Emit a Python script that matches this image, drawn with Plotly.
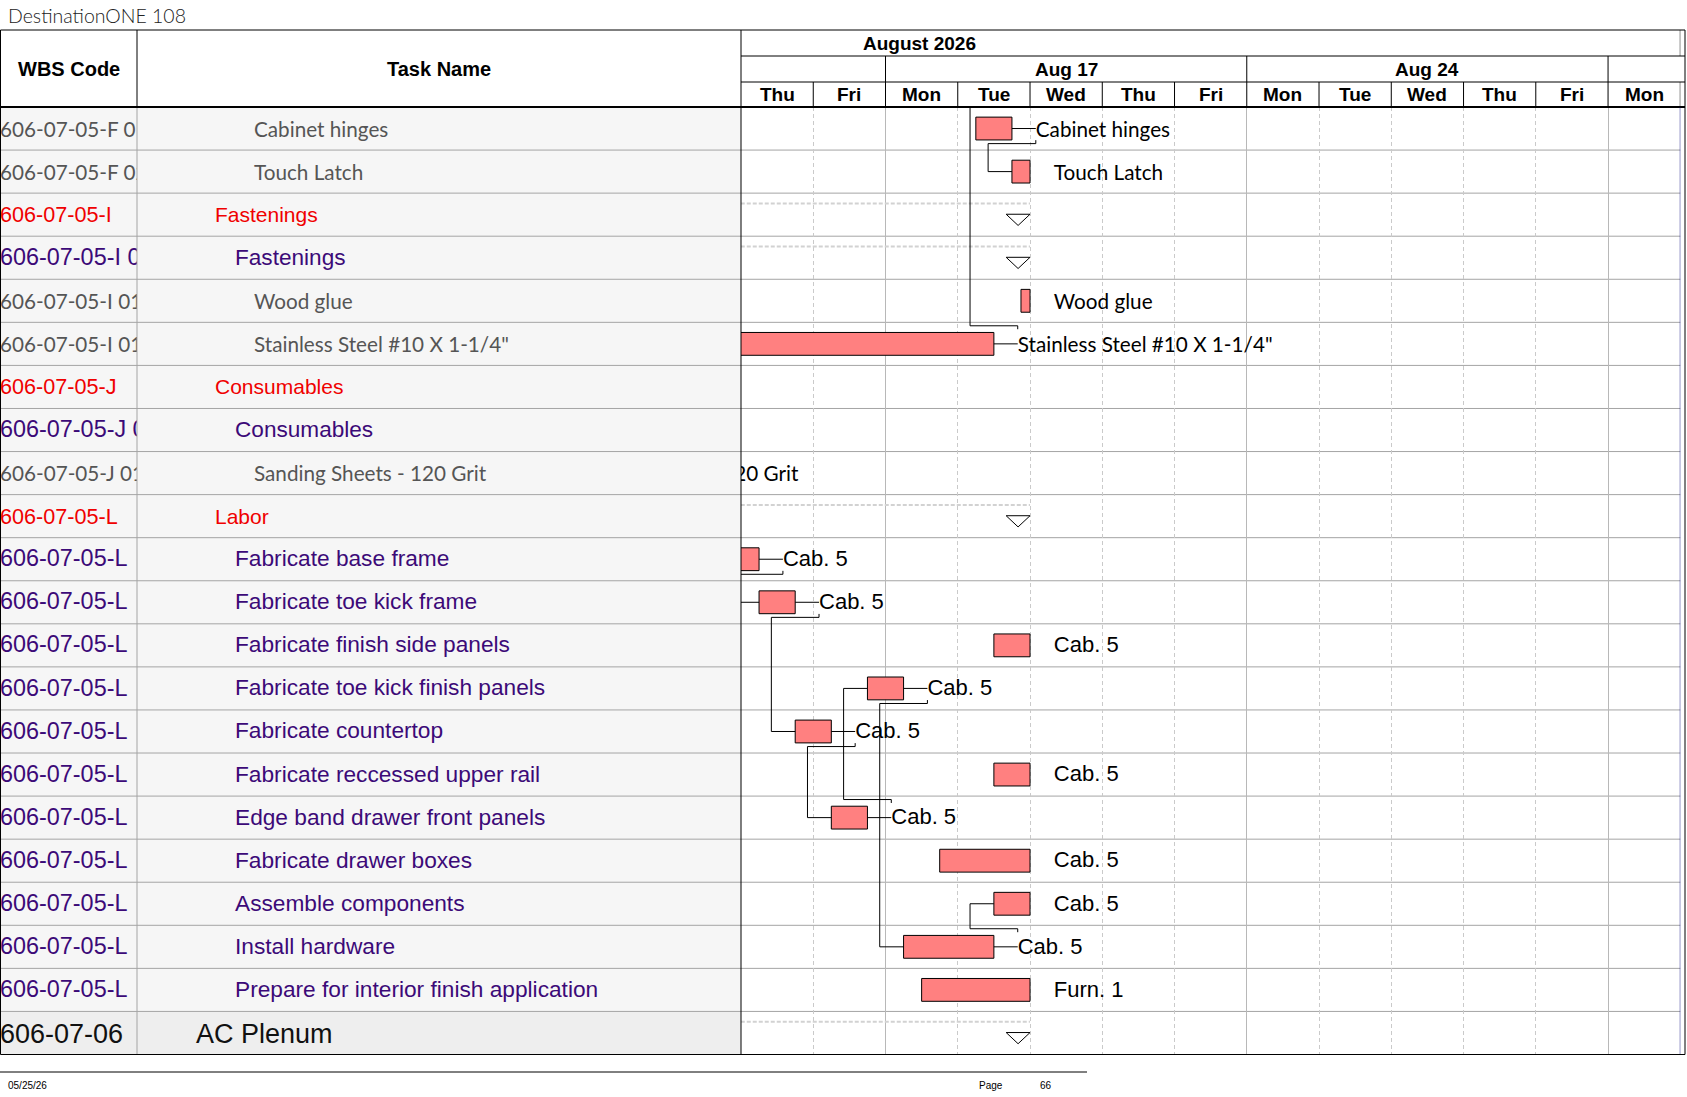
import plotly.graph_objects as go

W, H = 1687, 1097

title_text = "DestinationONE 108"
month_label = "August 2026"
day_labels = ["Thu", "Fri", "Mon", "Tue", "Wed", "Thu", "Fri",
              "Mon", "Tue", "Wed", "Thu", "Fri", "Mon"]
week_labels = ["", "Aug 17", "Aug 24", ""]

wbs_codes = ["606-07-05-F 01", "606-07-05-F 02", "606-07-05-I", "606-07-05-I 01",
             "606-07-05-I 01 01", "606-07-05-I 01 02", "606-07-05-J", "606-07-05-J 01",
             "606-07-05-J 01 01", "606-07-05-L",
             "606-07-05-L", "606-07-05-L", "606-07-05-L", "606-07-05-L", "606-07-05-L",
             "606-07-05-L", "606-07-05-L", "606-07-05-L", "606-07-05-L", "606-07-05-L",
             "606-07-05-L", "606-07-06"]
task_names = ["Cabinet hinges", "Touch Latch", "Fastenings", "Fastenings", "Wood glue",
              'Stainless Steel #10 X 1-1/4"', "Consumables", "Consumables",
              "Sanding Sheets - 120 Grit", "Labor", "Fabricate base frame",
              "Fabricate toe kick frame", "Fabricate finish side panels",
              "Fabricate toe kick finish panels", "Fabricate countertop",
              "Fabricate reccessed upper rail", "Edge band drawer front panels",
              "Fabricate drawer boxes", "Assemble components", "Install hardware",
              "Prepare for interior finish application", "AC Plenum"]
row_kind = ["mat", "mat", "sum1", "sum2", "mat", "mat", "sum1", "sum2", "mat", "sum1",
            "lab", "lab", "lab", "lab", "lab", "lab", "lab", "lab", "lab", "lab", "lab",
            "top"]
# working days counted from the start of Thu Aug 13 (weekends left out)
task_start = [3.25, 3.75, -1.0, -1.0, 3.875, -1.0, -3.0, -3.0, -3.0, -1.0,
              -0.25, 0.25, 3.5, 1.75, 0.75, 3.5, 1.25, 2.75, 3.5, 2.25, 2.5, -1.0]
task_finish = [3.75, 4.0, 4.0, 4.0, 4.0, 3.5, -2.75, -2.75, -2.75, 4.0,
               0.25, 0.75, 4.0, 2.25, 1.25, 4.0, 1.75, 4.0, 4.0, 3.5, 4.0, 4.0]
bar_labels = ["Cabinet hinges", "Touch Latch", "", "", "Wood glue",
              'Stainless Steel #10 X 1-1/4"', "", "", "Sanding Sheets - 120 Grit", "",
              "Cab. 5", "Cab. 5", "Cab. 5", "Cab. 5", "Cab. 5", "Cab. 5", "Cab. 5",
              "Cab. 5", "Cab. 5", "Cab. 5", "Furn. 1", ""]
# finish-to-start links (predecessor row, successor row)
links = [(0, 1), (10, 11), (11, 14), (14, 16), (16, 13), (13, 19), (19, 18)]
# links to a task on the previous page (predecessor row, successor start)
links_to_prev_page = [(5, 3.5)]

footer_date = "05/25/26"
footer_page = "66"

# ---- look ----
ARIAL = "Liberation Sans, Arial, sans-serif"
CAL = "Lato, Carlito, Calibri, sans-serif"
STYLE = {
    "sum1": dict(color="#f00000", family=ARIAL, size=21, wsize=21.6, indent=78, dy=0.05),
    "sum2": dict(color="#3c0a78", family=ARIAL, size=22.6, wsize=23.4, indent=98, dy=0.03),
    "lab": dict(color="#3c0a78", family=ARIAL, size=22.7, wsize=23.4, indent=98, dy=0.03),
    "mat": dict(color="#555555", family=CAL, size=20.7, wsize=20.7, indent=117, dy=0.075),
    "top": dict(color="#111111", family=ARIAL, size=27, wsize=27, indent=59, dy=0.07),
}
TOP, T1, T2, HB, BOT = 30, 56, 82, 107, 1054.5
C1, C2, CR, FR = 137, 741, 1680.3, 1685
GAP = 0.33
BAR_H = 0.53


def px(x):
    return x / W


def py(y):
    return 1 - y / H


n = len(task_names)
ndays = len(day_labels)
week_starts = [i for i, d in enumerate(day_labels) if d == "Mon"]
week_edges = [0] + week_starts + [ndays]
is_summary = [k in ("sum1", "sum2", "top") for k in row_kind]

fig = go.Figure()

# bars
rows = [i for i in range(n) if not is_summary[i]]
fig.add_trace(go.Bar(
    orientation="h",
    y=[i + 0.5 for i in rows],
    base=[task_start[i] for i in rows],
    x=[task_finish[i] - task_start[i] for i in rows],
    width=BAR_H,
    marker=dict(color="#ff8080", line=dict(color="black", width=1)),
    hoverinfo="skip", showlegend=False,
))

# summary rows: dashed span and open triangle at the finish
sx, sy, tx, ty = [], [], [], []
for i in range(n):
    if not is_summary[i]:
        continue
    sx += [task_start[i], task_finish[i], None]
    sy += [i + 0.24, i + 0.24, None]
    e = task_finish[i]
    tx += [e - GAP, e, e - GAP / 2, e - GAP, None]
    ty += [i + 0.49, i + 0.49, i + 0.75, i + 0.49, None]
fig.add_trace(go.Scatter(x=sx, y=sy, mode="lines",
                         line=dict(color="#d2d2d2", width=2, dash="4px,2px"),
                         hoverinfo="skip", showlegend=False))
fig.add_trace(go.Scatter(x=tx, y=ty, mode="lines", fill="toself", fillcolor="white",
                         line=dict(color="black", width=1),
                         hoverinfo="skip", showlegend=False))

# link lines
lx, ly = [], []


def link_path(pred, succ_start, succ_row):
    c = pred + 0.5
    sc = succ_row + 0.5
    e = task_finish[pred]
    # bar to label
    lx.extend([e, e + GAP, None])
    ly.extend([c, c, None])
    if sc > c:
        yy, yt = c + 0.35, c + 0.27
    else:
        yy, yt = c - 0.42, c - 0.34
    vx = succ_start - GAP
    lx.extend([e + GAP, e + GAP, vx, vx, succ_start, None])
    ly.extend([yt, yy, yy, sc, sc, None])


for p, s in links:
    link_path(p, task_start[s], s)
for p, s0 in links_to_prev_page:
    link_path(p, s0, -1)
fig.add_trace(go.Scatter(x=lx, y=ly, mode="lines", line=dict(color="black", width=1),
                         hoverinfo="skip", showlegend=False))

# bar labels
for kind, fam, size in (("mat", CAL, 20.7), ("lab", ARIAL, 22)):
    idx = [i for i in range(n) if row_kind[i] == kind and bar_labels[i]]
    fig.add_trace(go.Scatter(
        x=[task_finish[i] + GAP for i in idx],
        y=[i + 0.5 + STYLE[kind]["dy"] for i in idx],
        mode="text", text=[bar_labels[i] for i in idx], textposition="middle right",
        textfont=dict(family=fam, size=size, color="black"),
        cliponaxis=True, hoverinfo="skip", showlegend=False))

# table columns
row_y = [i + 0.5 + STYLE[k]["dy"] for i, k in enumerate(row_kind)]
fig.add_trace(go.Scatter(
    x=[0] * n, y=row_y, xaxis="x2", yaxis="y",
    mode="text", text=wbs_codes, textposition="middle right",
    textfont=dict(family=[STYLE[k]["family"] for k in row_kind],
                  size=[STYLE[k]["wsize"] for k in row_kind],
                  color=[STYLE[k]["color"] for k in row_kind]),
    cliponaxis=True, hoverinfo="skip", showlegend=False))
fig.add_trace(go.Scatter(
    x=[STYLE[k]["indent"] for k in row_kind], y=row_y,
    xaxis="x3", yaxis="y",
    mode="text", text=task_names, textposition="middle right",
    textfont=dict(family=[STYLE[k]["family"] for k in row_kind],
                  size=[STYLE[k]["size"] for k in row_kind],
                  color=[STYLE[k]["color"] for k in row_kind]),
    cliponaxis=True, hoverinfo="skip", showlegend=False))

shapes = []
for i in range(n):
    shapes.append(dict(type="rect", xref="paper", yref="y", x0=0, x1=px(C2), y0=i, y1=i + 1,
                       fillcolor="#eeeeee" if row_kind[i] == "top" else "#f6f6f6",
                       line=dict(width=0), layer="below"))
for i in range(1, n):
    shapes.append(dict(type="line", xref="paper", yref="y", x0=0, x1=px(CR), y0=i, y1=i,
                       line=dict(color="#a4a4a4", width=1), layer="below"))


def vline(x, y0, y1, color="black", width=1, xref="paper"):
    shapes.append(dict(type="line", xref=xref, yref="paper", x0=x, x1=x,
                       y0=py(y0), y1=py(y1), line=dict(color=color, width=width)))


def hline(x0, x1, y, color="black", width=1):
    shapes.append(dict(type="line", xref="paper", yref="paper", x0=px(x0), x1=px(x1),
                       y0=py(y), y1=py(y), line=dict(color=color, width=width)))


vline(px(C1), HB, BOT, color="#a4a4a4")
vline(px(C1), TOP, HB)
vline(px(C2), TOP, BOT)
hline(C2, FR, T1)
hline(C2, FR, T2)
hline(0, FR, HB, width=2)
for d in range(1, ndays + 1):
    vline(d, T2, HB, xref="x")
for d in week_starts:
    vline(d, T1, T2, xref="x")
vline(ndays, TOP, T1, xref="x")
vline(ndays, HB, BOT, color="#101080", xref="x")
shapes.append(dict(type="rect", xref="paper", yref="paper", x0=px(0.5), x1=px(FR),
                   y0=py(BOT), y1=py(TOP), line=dict(color="black", width=1)))
hline(0, 1087, 1072)

ann = []


def note(text, x, y, font, xref="paper", xanchor="center"):
    ann.append(dict(text=text, xref=xref, yref="paper", x=x, y=py(y),
                    xanchor=xanchor, yanchor="middle", showarrow=False, font=font))


hdr = dict(family=ARIAL, size=20, color="black", weight="bold")
note("WBS Code", px(C1 / 2), (TOP + HB) / 2, hdr)
note("Task Name", px((C1 + C2) / 2), (TOP + HB) / 2, hdr)
tier = dict(family=ARIAL, size=19, color="black", weight="bold")
note(month_label, 2.47, (TOP + T1) / 2, tier, xref="x")
for w, lab in enumerate(week_labels):
    if lab:
        note(lab, (week_edges[w] + week_edges[w + 1]) / 2, (T1 + T2) / 2, tier, xref="x")
for d, lab in enumerate(day_labels):
    note(lab, d + 0.5, (T2 + HB) / 2, tier, xref="x")
note(title_text, px(6), 15,
     dict(family="Lato, sans-serif", size=19.5, color="#222222", weight=300),
     xanchor="left")
foot = dict(family=ARIAL, size=10, color="black")
note(footer_date, px(6), 1085, foot, xanchor="left")
note("Page", px(977), 1085, foot, xanchor="left")
note(footer_page, px(1038), 1085, foot, xanchor="left")

noax = dict(showticklabels=False, ticks="", zeroline=False, showline=False, fixedrange=True)
fig.update_layout(
    width=W, height=H, margin=dict(l=0, r=0, t=0, b=0),
    paper_bgcolor="white", plot_bgcolor="white",
    barmode="overlay", showlegend=False,
    xaxis=dict(domain=[px(C2), px(CR)], range=[0, ndays], tickvals=week_starts,
               showgrid=True, gridcolor="#b8b8b8", gridwidth=1,
               minor=dict(tickvals=[d for d in range(1, ndays) if d not in week_starts],
                          showgrid=True, gridcolor="#cacaca", griddash="4px,3px"),
               **noax),
    xaxis2=dict(domain=[0, px(C1)], range=[0, C1], anchor="y", showgrid=False, **noax),
    xaxis3=dict(domain=[px(C1), px(C2)], range=[0, C2 - C1], anchor="y", showgrid=False,
                **noax),
    yaxis=dict(domain=[py(BOT), py(HB)], range=[n, 0], showgrid=False, **noax),
    shapes=shapes, annotations=ann,
)

fig.write_html("out.html", config={"displayModeBar": False},
               post_script="document.body.style.margin='0';document.body.style.overflow='hidden';")
